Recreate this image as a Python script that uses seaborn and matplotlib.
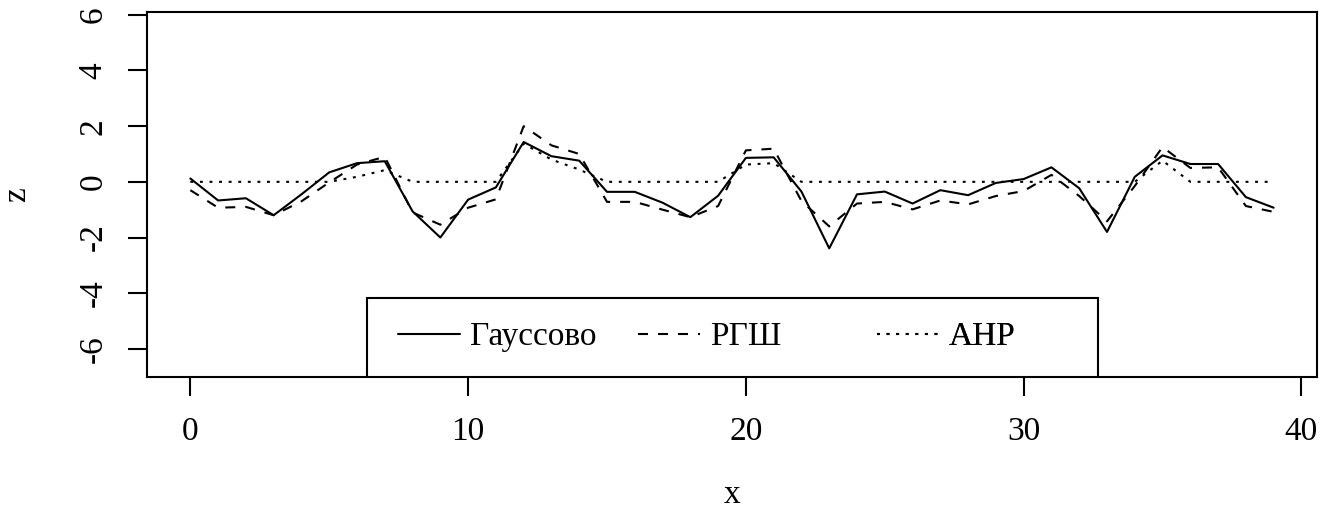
import numpy as np
import pandas as pd
import matplotlib
matplotlib.use("Agg")
import matplotlib.pyplot as plt
from matplotlib.patches import Rectangle
import seaborn as sns

# Series values at x = 0 .. 39
x = np.arange(40)

gauss = [0.12, -0.67, -0.59, -1.20, -0.45, 0.34, 0.67, 0.74, -1.06, -2.00,
         -0.64, -0.20, 1.43, 0.92, 0.76, -0.36, -0.36, -0.75, -1.27, -0.50,
         0.86, 0.88, -0.35, -2.39, -0.45, -0.35, -0.78, -0.30, -0.48, -0.04,
         0.10, 0.52, -0.23, -1.80, 0.18, 0.95, 0.64, 0.64, -0.55, -0.93]

rgsh = [-0.30, -0.93, -0.90, -1.20, -0.70, -0.02, 0.62, 0.90, -1.10, -1.54,
        -0.93, -0.63, 2.00, 1.31, 1.00, -0.72, -0.72, -1.00, -1.27, -0.87,
        1.13, 1.19, -0.69, -1.60, -0.78, -0.72, -0.99, -0.67, -0.81, -0.51,
        -0.33, 0.25, -0.51, -1.42, -0.15, 1.25, 0.50, 0.52, -0.87, -1.08]

ahp = [0.00, 0.00, 0.00, 0.00, 0.00, 0.00, 0.18, 0.42, 0.00, 0.00,
       0.00, 0.00, 1.37, 0.80, 0.44, 0.00, 0.00, 0.00, 0.00, 0.00,
       0.62, 0.67, 0.00, 0.00, 0.00, 0.00, 0.00, 0.00, 0.00, 0.00,
       0.00, 0.00, 0.00, 0.00, 0.00, 0.76, 0.00, 0.00, 0.00, 0.00]

labels = ["Гауссово", "РГШ", "АНР"]
x_ticks = [0, 10, 20, 30, 40]
y_ticks = [-6, -4, -2, 0, 2, 4, 6]

sns.set_style("ticks")
plt.rcParams["font.family"] = ["Liberation Serif", "DejaVu Serif"]
plt.rcParams["font.size"] = 24
plt.rcParams["text.color"] = "black"
plt.rcParams["axes.labelcolor"] = "black"
plt.rcParams["xtick.color"] = "black"
plt.rcParams["ytick.color"] = "black"

fig = plt.figure(figsize=(13.41, 5.31), dpi=100)
ax = fig.add_axes([147 / 1341, 1 - 376.7 / 531, 1170 / 1341, 364.7 / 531])

lw = 1.5
styles = [dict(linestyle="-"),
          dict(linestyle=(0, (4.8, 4.8))),
          dict(linestyle=(0, (1.4, 3.2)))]
series = [gauss, rgsh, ahp]

handles = []
for name, vals, st in zip(labels, series, styles):
    df = pd.DataFrame({"x": x, "z": vals})
    sns.lineplot(data=df, x="x", y="z", ax=ax, color="black", lw=lw, **st)
    handles.append(ax.lines[-1])

ax.set_xlim(-1.56, 40.56)
ax.set_ylim(-7.0, 6.1)
ax.set_xticks(x_ticks)
ax.set_yticks(y_ticks)
ax.set_xticklabels([str(t) for t in x_ticks])
ax.set_yticklabels([str(t) for t in y_ticks], rotation=90, va="center")

for s in ax.spines.values():
    s.set_visible(True)
    s.set_color("black")
    s.set_linewidth(1.5)

ax.tick_params(axis="both", direction="out", length=13.7, width=1.5,
               colors="black", labelcolor="black", labelsize=24)
ax.tick_params(axis="x", pad=15)
ax.tick_params(axis="y", pad=14)

ax.set_xlabel("x", fontsize=24, color="black")
ax.set_ylabel("z", fontsize=24, color="black")
ax.xaxis.set_label_coords(0.5, -(495 - 376.7) / 364.7)
ax.xaxis.label.set_va("center")
ax.yaxis.set_label_coords(-(147 - 17) / 1170, 0.5)
ax.yaxis.label.set_va("center")

# Legend frame anchored at the bottom centre of the plot area
fw, fh = 731 / 1170, 79 / 364.7
frame = Rectangle((0.5 - fw / 2, 0), fw, fh, transform=ax.transAxes,
                  facecolor="white", edgecolor="black", lw=1.5, zorder=5)
ax.add_patch(frame)

col_x = [(398 - 147) / 1170, (638 - 147) / 1170, (877 - 147) / 1170]
for h, lab, cx in zip(handles, labels, col_x):
    leg = ax.legend([h], [lab], loc="center left", bbox_to_anchor=(cx, fh / 2),
                    frameon=False, borderpad=0, borderaxespad=0,
                    handlelength=1.86, handletextpad=0.3, fontsize=24,
                    labelcolor="black")
    leg.set_zorder(6)
    ax.add_artist(leg)

fig.savefig("out.png", dpi=100)
